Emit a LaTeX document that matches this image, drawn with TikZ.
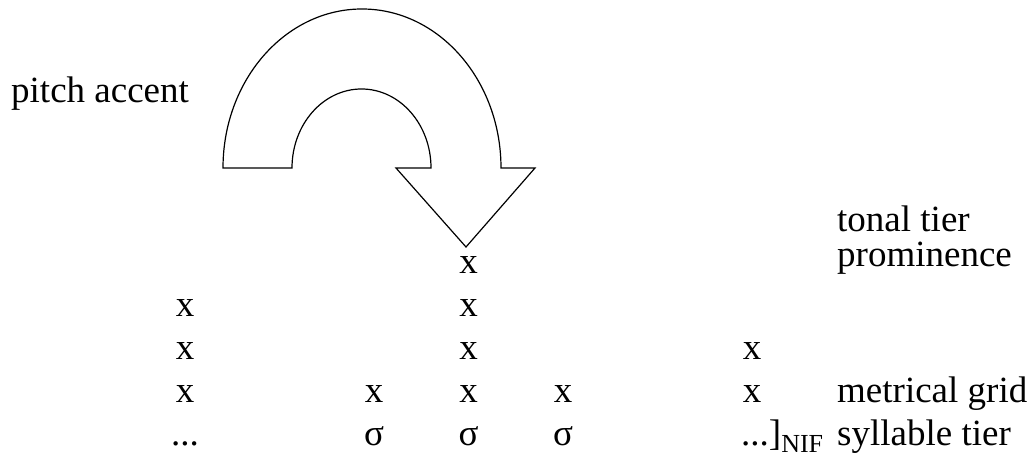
\documentclass[tikz,border=0pt]{standalone}
\usepackage{fontspec}
\setmainfont{Liberation Serif}
\tikzset{
  grille/.style={inner sep=0pt, anchor=base, font=\fontsize{37}{44}\selectfont},
  etiq/.style={inner sep=0pt, anchor=base west, font=\fontsize{37}{44}\selectfont},
  fleche/.style={draw=black, line width=1.2pt, fill=white, line join=miter},
}
\begin{document}
\begin{tikzpicture}[x=1pt,y=1pt]
  \useasboundingbox (0,0) rectangle (1034,457);
  % fleche de l'accent
  \draw[fleche] (223,289) arc[start angle=180, end angle=0, x radius=139, y radius=159]
    -- (535,289) -- (466,210) -- (396,289) -- (431,289)
    arc[start angle=0, end angle=180, x radius=69.5, y radius=79] -- cycle;
  % etiquettes
  \node[etiq] (pitch) at (11,354) {pitch accent};
  \node[etiq] (tonal) at (837,225) {tonal tier};
  \node[etiq] (prom) at (837,190) {prominence};
  \node[etiq] (metr) at (837,54) {metrical grid};
  \node[etiq] (syll) at (837,11) {syllable tier};
  % grille metrique
  \node[grille] (r1c3) at (468.5,183) {x};
  \node[grille] (r2c1) at (185,140) {x};
  \node[grille] (r2c3) at (468.5,140) {x};
  \node[grille] (r3c1) at (185,97) {x};
  \node[grille] (r3c3) at (468.5,97) {x};
  \node[grille] (r3c5) at (752,97) {x};
  \node[grille] (r4c1) at (185,54) {x};
  \node[grille] (r4c2) at (374,54) {x};
  \node[grille] (r4c3) at (468.5,54) {x};
  \node[grille] (r4c4) at (563,54) {x};
  \node[grille] (r4c5) at (752,54) {x};
  % syllabes
  \node[grille] (s1) at (185,11) {...};
  \node[grille] (s2) at (374,11) {σ};
  \node[grille] (s3) at (468.5,11) {σ};
  \node[grille] (s4) at (563,11) {σ};
  \node[grille, anchor=base west] (s5) at (741,11) {...]\raisebox{-7pt}{\fontsize{26}{26}\selectfont NIF}};
\end{tikzpicture}
\end{document}
